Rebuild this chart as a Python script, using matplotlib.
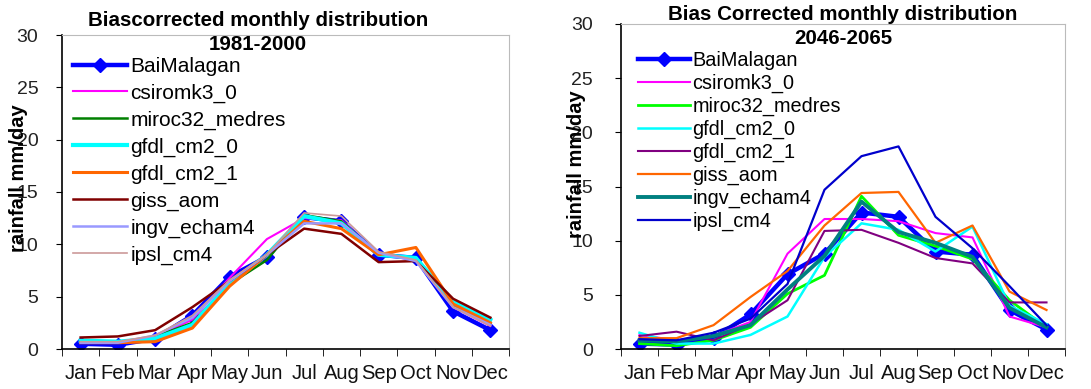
import matplotlib
matplotlib.use("Agg")
import matplotlib.pyplot as plt
import numpy as np

plt.rcParams['font.family'] = ['Liberation Sans', 'DejaVu Sans']

months = ["Jan", "Feb", "Mar", "Apr", "May", "Jun",
          "Jul", "Aug", "Sep", "Oct", "Nov", "Dec"]

# observed station
bai_malagan = [0.5, 0.4, 1.0, 3.2, 6.9, 8.8, 12.6, 12.2, 9.0, 8.7, 3.6, 1.8]

# 1981-2000 bias corrected GCMs
hist_csiromk3_0 = [0.6, 0.6, 1.2, 2.8, 6.8, 10.5, 12.5, 12.3, 9.0, 8.5, 4.0, 2.2]
hist_miroc32 = [0.6, 0.6, 1.2, 2.5, 6.2, 8.5, 12.8, 12.2, 9.0, 8.6, 4.2, 2.5]
hist_gfdl_cm2_0 = [0.8, 0.7, 1.0, 2.3, 6.3, 9.0, 12.7, 12.0, 9.0, 8.7, 4.5, 2.8]
hist_gfdl_cm2_1 = [0.6, 0.6, 0.7, 2.0, 6.0, 9.0, 12.2, 11.5, 9.0, 9.7, 4.3, 2.5]
hist_giss_aom = [1.1, 1.2, 1.8, 4.0, 6.5, 9.0, 11.5, 11.0, 8.3, 8.4, 4.8, 3.0]
hist_ingv_echam4 = [0.6, 0.6, 1.3, 3.0, 6.5, 9.0, 12.0, 12.0, 9.2, 8.4, 4.0, 2.3]
hist_ipsl_cm4 = [0.7, 0.7, 1.3, 3.2, 6.6, 9.0, 13.0, 12.7, 9.3, 8.5, 4.0, 2.2]

# 2046-2065 bias corrected GCMs
fut_csiromk3_0 = [1.3, 0.8, 1.2, 2.5, 8.8, 12.0, 12.0, 11.8, 10.7, 10.3, 3.0, 2.0]
fut_miroc32 = [0.5, 0.3, 0.8, 2.0, 5.1, 6.8, 14.1, 10.5, 9.5, 8.3, 4.5, 2.0]
fut_gfdl_cm2_0 = [1.5, 0.5, 0.5, 1.3, 3.0, 8.5, 11.6, 11.0, 9.0, 11.3, 4.0, 2.3]
fut_gfdl_cm2_1 = [1.2, 1.6, 0.8, 2.3, 4.5, 10.9, 11.0, 9.8, 8.4, 7.9, 4.3, 4.3]
fut_giss_aom = [1.0, 1.0, 2.2, 4.8, 7.2, 11.4, 14.4, 14.5, 9.8, 11.4, 5.3, 3.6]
fut_ingv_echam4 = [0.8, 0.7, 1.2, 2.2, 5.5, 8.6, 13.6, 10.8, 9.8, 8.5, 3.8, 2.0]
fut_ipsl_cm4 = [0.9, 0.8, 1.5, 2.8, 6.0, 14.7, 17.8, 18.7, 12.2, 9.3, 5.8, 2.2]

names = ["csiromk3_0", "miroc32_medres", "gfdl_cm2_0", "gfdl_cm2_1",
         "giss_aom", "ingv_echam4", "ipsl_cm4"]

hist = [hist_csiromk3_0, hist_miroc32, hist_gfdl_cm2_0, hist_gfdl_cm2_1,
        hist_giss_aom, hist_ingv_echam4, hist_ipsl_cm4]
fut = [fut_csiromk3_0, fut_miroc32, fut_gfdl_cm2_0, fut_gfdl_cm2_1,
       fut_giss_aom, fut_ingv_echam4, fut_ipsl_cm4]

hist_styles = [("#FF00FF", 1.5), ("#008000", 1.8), ("#00FFFF", 3.0),
               ("#FF6600", 2.2), ("#800000", 1.8), ("#9999FF", 1.8),
               ("#CC9999", 1.2)]
fut_styles = [("#FF00FF", 1.5), ("#00FF00", 2.0), ("#00FFFF", 1.8),
              ("#800080", 1.5), ("#FF6600", 1.6), ("#008080", 2.8),
              ("#0000CC", 1.6)]

W, H = 1091, 389
fig = plt.figure(figsize=(W / 100, H / 100), dpi=100)


def px_axes(x0, x1, y0, y1):
    return fig.add_axes([x0 / W, 1 - y1 / H, (x1 - x0) / W, (y1 - y0) / H])


def draw(ax, series, styles, legend_xy, spacing, ypad, lfs):
    x = np.arange(len(months))
    ax.plot(x, bai_malagan, color="#0000FF", lw=3.2, marker="D", ms=7,
            label="BaiMalagan", zorder=2)
    for vals, name, (c, lw) in zip(series, names, styles):
        ax.plot(x, vals, color=c, lw=lw, label=name, zorder=3)
    ax.set_xlim(-0.5, 11.5)
    ax.set_ylim(0, 30)
    ax.set_yticks(range(0, 31, 5))
    ax.set_xticks(x)
    ax.set_xticklabels(months)
    ax.set_xticks(np.arange(-0.5, 12, 1), minor=True)
    ax.tick_params(axis="x", which="major", length=0, pad=11, labelsize=14.5,
                   labelcolor="#111111")
    ax.tick_params(axis="x", which="minor", length=5, direction="out")
    ax.tick_params(axis="y", length=4, pad=ypad, labelsize=14, labelcolor="#222222")
    for s in ("top", "right"):
        ax.spines[s].set_color("#BBBBBB")
        ax.spines[s].set_linewidth(0.8)
    for s in ("left", "bottom"):
        ax.spines[s].set_linewidth(1.2)
    ax.legend(loc="upper left", bbox_to_anchor=(legend_xy[0] / W, 1 - legend_xy[1] / H),
              bbox_transform=fig.transFigure, frameon=False, fontsize=lfs,
              handlelength=2.6, handletextpad=0.15, labelspacing=spacing,
              borderpad=0, borderaxespad=0)


ax1 = px_axes(62, 509, 35, 349)
draw(ax1, hist, hist_styles, (73, 57), 0.37, 13, 15)
ax2 = px_axes(621, 1065, 24, 349)
draw(ax2, fut, fut_styles, (638, 51), 0.19, 16, 14.3)

fig.text(258 / W, 1 - 20 / H, "Biascorrected monthly distribution", ha="center",
         va="center", fontsize=14.8, fontweight="bold")
fig.text(258 / W, 1 - 45 / H, "1981-2000", ha="center", va="center",
         fontsize=14.8, fontweight="bold")
fig.text(843 / W, 1 - 14 / H, "Bias Corrected monthly distribution", ha="center",
         va="center", fontsize=14.8, fontweight="bold")
fig.text(843 / W, 1 - 38 / H, "2046-2065", ha="center", va="center",
         fontsize=14.8, fontweight="bold")

fig.text(19 / W, 1 - 178 / H, "rainfall mm/day", rotation=90, ha="center",
         va="center", fontsize=14.5, fontweight="bold")
fig.text(576 / W, 1 - 164 / H, "rainfall mm/day", rotation=90, ha="center",
         va="center", fontsize=14.5, fontweight="bold")

fig.savefig("out.png", dpi=100)
